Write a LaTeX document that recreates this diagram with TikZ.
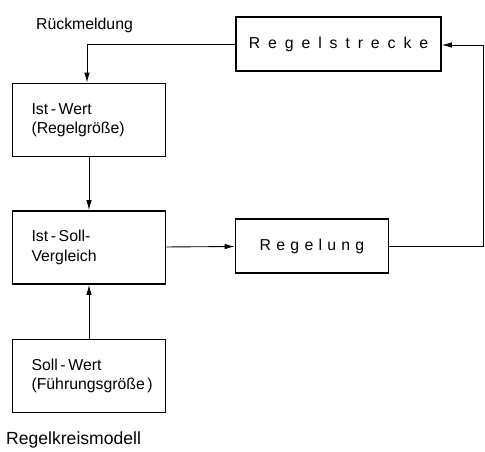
\documentclass[tikz,border=0pt]{standalone}
\usepackage{fontspec}
\setmainfont{Liberation Sans}
\usepackage{tikz}
\usetikzlibrary{arrows.meta}

\begin{document}
\begin{tikzpicture}[
  x=0.02cm, y=-0.02cm,
  box/.style={draw, line width=1pt, inner sep=0pt, font=\small},
  leftbox/.style={box, minimum width=3.06cm, minimum height=1.46cm,
                  text width=2.3cm, align=left},
  rightbox/.style={box, minimum height=1.08cm},
  link/.style={line width=0.5pt, -{Latex[length=2mm, width=1.1mm]}},
  label/.style={font=\small},
]

\useasboundingbox (0,0) rectangle (485,452);

\node[rightbox, minimum width=4.1cm] (strecke) at (338.5, 44) {R\,\,\,e\,\,\,g\,\,\,e\,\,\,l\,\,\,s\,\,\,t\,\,\,r\,\,\,e\,\,\,c\,\,\,k\,\,\,e};
\node[leftbox] (istwert) at (89, 120) {Ist\,-\,Wert\\(Regelgröße)};
\node[leftbox] (vergleich) at (89, 247.5) {Ist\,-\,Soll-\\Vergleich};
\node[rightbox, minimum width=3.06cm] (regelung) at (312, 246) {R\,\,e\,\,g\,\,e\,\,l\,\,u\,\,n\,\,g};
\node[leftbox] (sollwert) at (89, 376) {Soll\,-\,Wert\\(Führungsgröße\,)};

\node[label, anchor=west] (rueck) at (30, 25) {Rückmeldung};
\node[font=\normalsize, anchor=west] (modell) at (0, 440) {Regelkreismodell};

\coordinate (ecke1) at (87, 44);
\coordinate (ecke2) at (483, 246);
\coordinate (ecke3) at (483, 45);

\draw[link] (strecke.west) -- (ecke1) -- (istwert.north -| ecke1);
\draw[link] (istwert) -- (vergleich);
\draw[link] (vergleich) -- (regelung);
\draw[link] (sollwert) -- (vergleich);
\draw[link] (regelung.east) -- (ecke2) -- (ecke3) -- (strecke.east |- ecke3);

\end{tikzpicture}
\end{document}
